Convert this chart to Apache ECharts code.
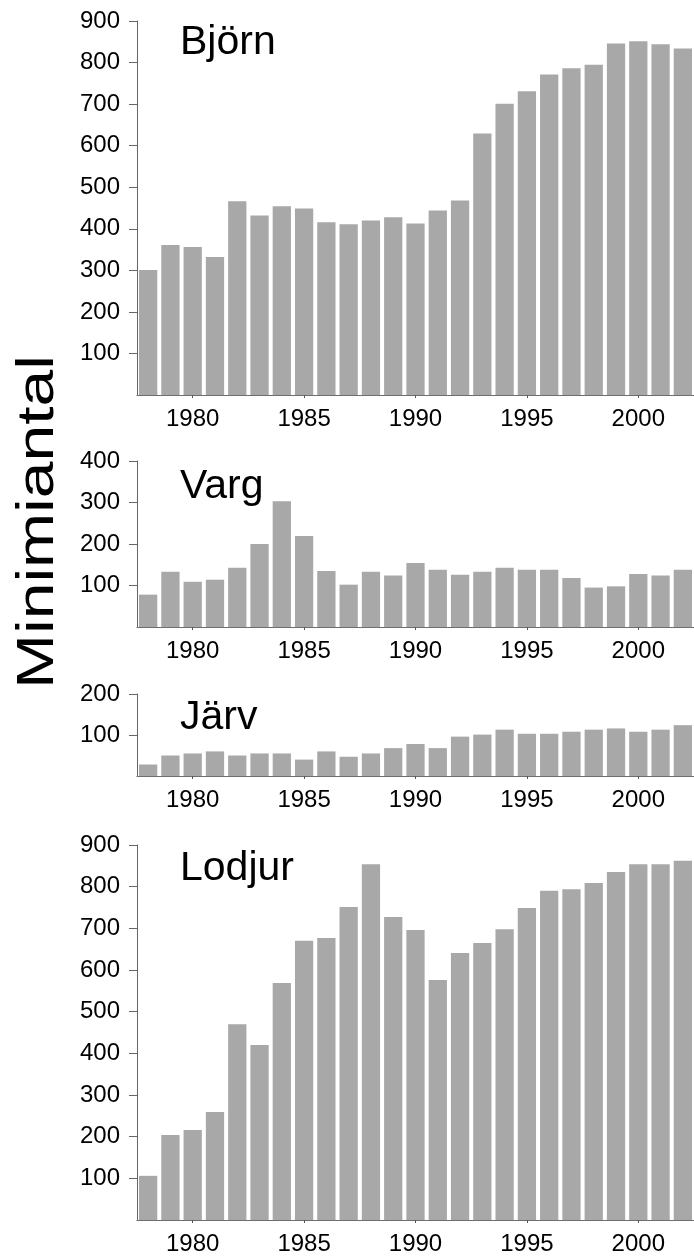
<!DOCTYPE html>
<html>
<head>
<meta charset="utf-8">
<script src="https://cdn.jsdelivr.net/npm/echarts@6/dist/echarts.min.js"></script>
<style>
html,body{margin:0;padding:0;background:#fff;}
#chart{width:694px;height:1256px;}
</style>
</head>
<body>
<div id="chart"></div>
<script>
// ---- data ----
const years = ['1978','1979','1980','1981','1982','1983','1984','1985','1986','1987','1988','1989','1990','1991','1992','1993','1994','1995','1996','1997','1998','1999','2000','2001','2002'];
const yearLabels = ['1980','1985','1990','1995','2000'];
const bjornValues = [301,361,356,332,466,432,454,449,416,411,420,428,413,444,468,629,701,731,771,786,795,846,851,844,834];
const vargValues = [78,133,109,114,143,200,303,219,135,102,133,124,154,138,126,133,143,138,138,118,95,98,128,124,138];
const jarvValues = [28,50,55,60,50,55,55,40,60,47,55,68,78,68,96,101,113,103,103,108,113,116,108,113,124];
const lodjurValues = [106,204,216,259,470,420,569,670,677,751,854,727,696,576,641,665,698,749,790,794,809,835,854,854,862];
const bjornTicks = [100,200,300,400,500,600,700,800,900];
const vargTicks = [100,200,300,400];
const jarvTicks = [100,200];
const lodjurTicks = [100,200,300,400,500,600,700,800,900];
const panelNames = ['Björn','Varg','Järv','Lodjur'];
const yAxisTitle = 'Minimiantal';

// ---- layout ----
const FONT = '"Liberation Sans", Arial, Helvetica, sans-serif';
const panels = [
  {name: panelNames[0], values: bjornValues, ticks: bjornTicks, top: 21, height: 374, titleY: 43},
  {name: panelNames[1], values: vargValues, ticks: vargTicks, top: 461, height: 166, titleY: 487},
  {name: panelNames[2], values: jarvValues, ticks: jarvTicks, top: 694, height: 82, titleY: 718},
  {name: panelNames[3], values: lodjurValues, ticks: lodjurTicks, top: 845, height: 375, titleY: 869}
];

const isLabelYear = (i) => yearLabels.indexOf(years[i]) >= 0;

const grids = [], xAxes = [], yAxes = [], series = [], graphics = [];
panels.forEach((p, k) => {
  grids.push({left: 137, right: 0, top: p.top, height: p.height, containLabel: false});
  xAxes.push({
    type: 'category', gridIndex: k, data: years, boundaryGap: true,
    axisLine: {show: true, lineStyle: {color: '#6e6e6e', width: 1.2}},
    axisTick: {show: true, alignWithLabel: true, interval: (i) => isLabelYear(i), length: 3, lineStyle: {color: '#555'}},
    axisLabel: {interval: (i) => isLabelYear(i), margin: 12, fontSize: 24, color: '#000', fontFamily: FONT},
    splitLine: {show: false}
  });
  yAxes.push({
    type: 'value', gridIndex: k, min: 0, max: p.ticks[p.ticks.length - 1], interval: 100,
    axisLine: {show: true, lineStyle: {color: '#666', width: 1}},
    axisTick: {show: true, length: 8, customValues: p.ticks, lineStyle: {color: '#666'}},
    axisLabel: {customValues: p.ticks, margin: 17, fontSize: 24, color: '#000', fontFamily: FONT},
    splitLine: {show: false}
  });
  series.push({
    type: 'bar', xAxisIndex: k, yAxisIndex: k, data: p.values,
    barCategoryGap: '18%', itemStyle: {color: '#a8a8a8'}, silent: true, animation: false
  });
  graphics.push({
    type: 'text', left: 180, top: p.titleY - 21,
    style: {text: p.name, font: '41px ' + FONT, fill: '#000'}
  });
});
graphics.push({
  type: 'text', x: 39, y: 522, rotation: Math.PI / 2, scaleX: 1.27, scaleY: 1,
  style: {text: yAxisTitle, font: '52px ' + FONT, fill: '#000', textAlign: 'center', textVerticalAlign: 'middle'}
});

const chart = echarts.init(document.getElementById('chart'), null, {renderer: 'canvas'});
chart.setOption({
  animation: false,
  backgroundColor: '#fff',
  grid: grids, xAxis: xAxes, yAxis: yAxes, series: series, graphic: graphics
});
</script>
</body>
</html>
